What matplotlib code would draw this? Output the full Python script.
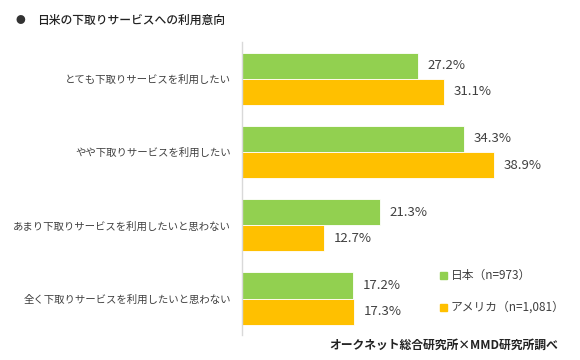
import numpy as np
import matplotlib
matplotlib.use("Agg")
import matplotlib.pyplot as plt
from matplotlib.patches import Rectangle

plt.rcParams['font.family'] = ['Noto Sans CJK JP', 'DejaVu Sans']

# -----------------------------
# DATA
# -----------------------------
title = "日米の下取りサービスへの利用意向"
categories = [
    "とても下取りサービスを利用したい",
    "やや下取りサービスを利用したい",
    "あまり下取りサービスを利用したいと思わない",
    "全く下取りサービスを利用したいと思わない",
]
japan = [27.2, 34.3, 21.3, 17.2]
usa = [31.1, 38.9, 12.7, 17.3]
series_names = ["日本（n=973）", "アメリカ（n=1,081）"]
source = "オークネット総合研究所×MMD研究所調べ"

GREEN = "#92D050"
ORANGE = "#FFC000"
TEXT = "#404040"

# -----------------------------
# PLOT
# -----------------------------
fig = plt.figure(figsize=(5.8, 3.6), dpi=100)
ax = fig.add_axes([0.417, 0.069, 0.559, 0.814])

y = np.arange(len(categories))
h = 0.356
ax.barh(y - h / 2, japan, height=h, color=GREEN, edgecolor="white", linewidth=0.6)
ax.barh(y + h / 2, usa, height=h, color=ORANGE, edgecolor="white", linewidth=0.6)

for yi, v in zip(y, japan):
    ax.text(v + 1.5, yi - h / 2, f"{v:.1f}%", va="center", ha="left",
            fontsize=9.5, color=TEXT)
for yi, v in zip(y, usa):
    ax.text(v + 1.5, yi + h / 2, f"{v:.1f}%", va="center", ha="left",
            fontsize=9.5, color=TEXT)

ax.set_xlim(0, 50)
ax.set_ylim(len(categories) - 0.5, -0.5)
ax.set_xticks([])
ax.set_yticks(y)
ax.set_yticklabels(categories, fontsize=7.5, color=TEXT)
ax.tick_params(axis="y", length=0, pad=8)
for s in ["top", "right", "bottom"]:
    ax.spines[s].set_visible(False)
ax.spines["left"].set_color("#d9d9d9")
ax.spines["left"].set_linewidth(1)

# legend (manual, like the original)
for name, col, ly in zip(series_names, [GREEN, ORANGE], [275, 307]):
    fig.patches.append(Rectangle((440 / 580, 1 - (ly + 4) / 360), 7 / 580, 7 / 360,
                                 transform=fig.transFigure, color=col))
    fig.text(451 / 580, 1 - ly / 360, name, fontsize=8.5, color=TEXT,
             va="center", ha="left")

# title
fig.text(20 / 580, 1 - 20 / 360, "●", fontsize=7, color="#333333",
         va="center", ha="center")
fig.text(37 / 580, 1 - 20 / 360, title, fontsize=8.5, color="#222222",
         va="center", ha="left", fontweight="medium")

# source
fig.text(558 / 580, 1 - 345 / 360, source, fontsize=8.5, color="#222222",
         va="center", ha="right", fontweight="bold")

fig.savefig("out.png", dpi=100)
